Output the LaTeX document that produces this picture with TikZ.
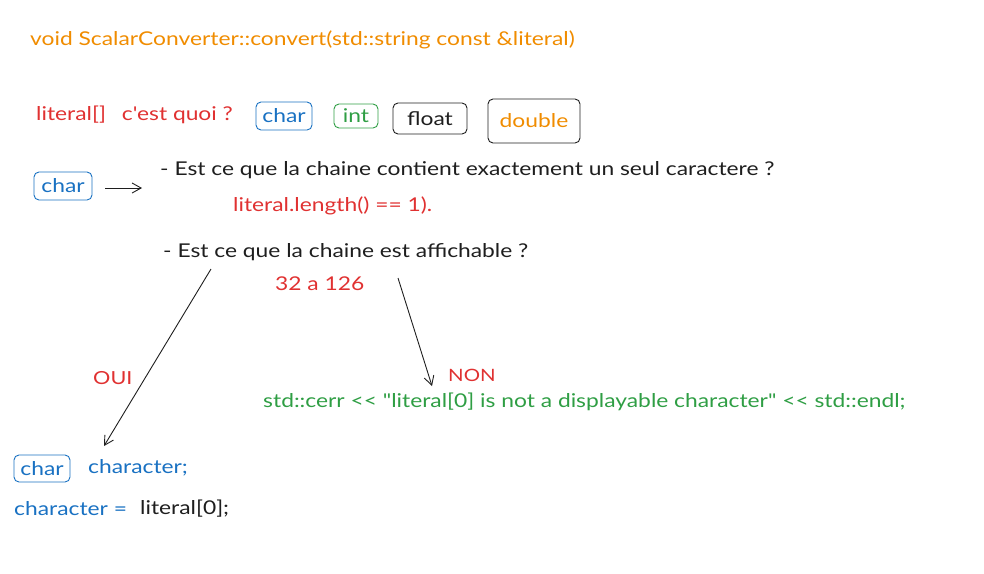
\documentclass[tikz,border=0pt]{standalone}
\usepackage{fontspec}
\setmainfont{Lato}[FakeStretch=1.2, Ligatures=TeXOff]
\definecolor{xorange}{HTML}{F08C00}
\definecolor{xred}{HTML}{E03131}
\definecolor{xblue}{HTML}{1971C2}
\definecolor{xgreen}{HTML}{2F9E44}
\definecolor{xblack}{HTML}{1E1E1E}
\usetikzlibrary{arrows.meta}
\tikzset{
  txt/.style={anchor=west, inner sep=0pt, font=\fontsize{19}{21}\selectfont},
  tbox/.style={draw, rounded corners=5pt, line width=0.9pt, inner sep=0pt, font=\fontsize{19}{21}\selectfont},
  arr/.style={draw=xblack, line width=0.9pt, -{Straight Barb[length=9pt,width=10pt]}}
}
\begin{document}
\begin{tikzpicture}[x=1pt,y=-1pt]
\useasboundingbox (0,0) rectangle (984,573);
\node[txt, text=xorange] (title) at (30,40) {void ScalarConverter::convert(std::string const \&literal)};
\node[txt, text=xred] (q) at (36,115) {literal[]\hspace{16pt}c'est quoi ?};
\node[tbox, draw=xblue, text=xblue, minimum width=56pt, minimum height=28pt] (c1) at (284,116) {char};
\node[tbox, draw=xgreen, text=xgreen, minimum width=44pt, minimum height=24pt] (i1) at (356,116) {int};
\node[tbox, draw=xblack, text=xblack, minimum width=74pt, minimum height=31pt] (f1) at (430,118.5) {float};
\node[tbox, draw=xblack, text=xorange, minimum width=92pt, minimum height=44pt] (d1) at (534,121) {double};
\node[tbox, draw=xblue, text=xblue, minimum width=58pt, minimum height=28pt] (c2) at (63,186) {char};
\coordinate (a1s) at (105,188);
\coordinate (a1e) at (142,188);
\draw[arr] (a1s) -- (a1e);
\node[txt, text=xblack] (l1) at (160,170) {- Est ce que la chaine contient exactement un seul caractere ?};
\node[txt, text=xred] (len) at (233,206) {literal.length() == 1).};
\node[txt, text=xblack] (l2) at (163,252) {- Est ce que la chaine est affichable ?};
\node[txt, text=xred] (rng) at (275,284) {32 a 126};
\coordinate (o1) at (211,269);
\coordinate (o2) at (104,446);
\draw[arr] (o1) -- (o2);
\node[txt, text=xred, font=\fontsize{18}{20}\selectfont] (oui) at (93,378) {OUI};
\coordinate (n1) at (398,278);
\coordinate (n2) at (432,386);
\draw[arr] (n1) -- (n2);
\node[txt, text=xred, font=\fontsize{17}{19}\selectfont] (non) at (448,375) {NON};
\node[txt, text=xgreen] (err) at (263,402) {std::cerr << \char34 literal[0] is not a displayable character\char34\ << std::endl;};
\node[tbox, draw=xblue, text=xblue, minimum width=56pt, minimum height=27pt] (c3) at (42,468.5) {char};
\node[txt, text=xblue] (chv) at (88,468) {character;};
\node[txt, text=xblue] (asg) at (14,509) {character =};
\node[txt, text=xblack] (lit) at (140,509) {literal[0];};
\end{tikzpicture}
\end{document}
